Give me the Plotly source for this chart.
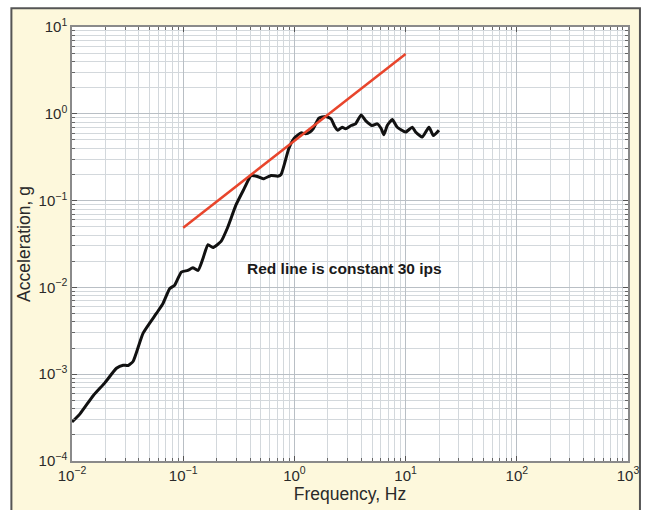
import plotly.graph_objects as go

# Measured acceleration spectrum
freq_hz = [0.0100, 0.0118, 0.0155, 0.0198, 0.0251, 0.0288, 0.0320, 0.0355, 0.0436,
           0.0574, 0.0658, 0.0755, 0.0838, 0.0962, 0.110, 0.122, 0.136, 0.150,
           0.167, 0.185, 0.219, 0.251, 0.299, 0.355, 0.407, 0.457, 0.525, 0.617,
           0.708, 0.759, 0.813, 0.891, 1.00, 1.148, 1.259, 1.380, 1.479, 1.660,
           1.905, 2.138, 2.291, 2.455, 2.692, 2.884, 3.236, 3.548, 3.981, 4.365,
           5.012, 5.559, 6.026, 6.383, 6.839, 7.586, 8.414, 10.0, 11.48, 12.30,
           14.13, 16.22, 17.78, 19.95]
accel_g = [2.81e-4, 3.49e-4, 5.65e-4, 8.0e-4, 1.17e-3, 1.27e-3, 1.26e-3, 1.41e-3, 2.97e-3,
           5.01e-3, 6.52e-3, 9.66e-3, 1.06e-2, 1.50e-2, 1.57e-2, 1.68e-2, 1.57e-2, 2.12e-2,
           3.10e-2, 2.88e-2, 3.39e-2, 4.90e-2, 8.97e-2, 0.139, 0.194, 0.191, 0.178, 0.195,
           0.191, 0.200, 0.263, 0.398, 0.525, 0.603, 0.589, 0.617, 0.676, 0.891,
           0.933, 0.871, 0.724, 0.646, 0.700, 0.671, 0.733, 0.766, 0.968, 0.836,
           0.733, 0.766, 0.676, 0.575, 0.733, 0.857, 0.700, 0.617, 0.700, 0.617,
           0.540, 0.700, 0.562, 0.646]

# Constant-velocity (30 ips) reference line
ref_freq_hz = [0.1, 10.0]
ref_accel_g = [0.0488, 4.88]

x_tickvals = [0.01, 0.1, 1, 10, 100, 1000]
x_ticktext = ["10<sup>−2</sup>", "10<sup>−1</sup>", "10<sup>0</sup>", "10<sup>1</sup>",
              "10<sup>2</sup>", "10<sup>3</sup>"]
y_tickvals = [1e-4, 1e-3, 1e-2, 1e-1, 1, 10]
y_ticktext = ["10<sup>−4</sup>", "10<sup>−3</sup>", "10<sup>−2</sup>", "10<sup>−1</sup>",
              "10<sup>0</sup>", "10<sup>1</sup>"]

note_text = "Red line is constant 30 ips"

FONT = "Liberation Sans, Arial, sans-serif"
TEXT_COLOR = "#2a2a2a"

fig = go.Figure()
fig.add_trace(go.Scatter(x=freq_hz, y=accel_g, mode="lines",
                         line=dict(color="#111111", width=3, shape="spline", smoothing=0.5),
                         hoverinfo="skip"))
fig.add_trace(go.Scatter(x=ref_freq_hz, y=ref_accel_g, mode="lines",
                         line=dict(color="#e8452c", width=2.5),
                         hoverinfo="skip"))

axis_common = dict(
    type="log",
    showline=True, linecolor="#8a8a8a", linewidth=1.5, mirror="allticks",
    ticks="inside", ticklen=5, tickcolor="#555555", tickwidth=1,
    showgrid=True, gridcolor="#b9bfc5", gridwidth=1,
    zeroline=False,
    tickfont=dict(family=FONT, size=15, color=TEXT_COLOR),
    minor=dict(dtick="D1", ticks="inside", ticklen=3, tickcolor="#666666",
               showgrid=True, gridcolor="#d3d8dc", gridwidth=1),
)

fig.update_xaxes(range=[-2, 3], tickvals=x_tickvals, ticktext=x_ticktext,
                 title=dict(text="Frequency, Hz", standoff=2,
                            font=dict(family=FONT, size=17.5, color=TEXT_COLOR)),
                 **axis_common)
fig.update_yaxes(range=[-4, 1], tickvals=y_tickvals, ticktext=y_ticktext,
                 title=dict(text="Acceleration, g", standoff=3,
                            font=dict(family=FONT, size=17.5, color=TEXT_COLOR)),
                 **axis_common)

fig.add_annotation(x=0.446, y=-1.779, xref="x", yref="y", text="<b>" + note_text + "</b>",
                   showarrow=False, font=dict(family=FONT, size=15.5, color="#1a1a1a"))

# Cream panel with dark border behind the plot, and a white plotting area
fig.add_shape(type="rect", xref="paper", yref="paper",
              x0=-0.109, x1=1.0215, y0=-0.2, y1=1.043,
              fillcolor="#fdf8dc", line=dict(color="#555555", width=2), layer="below")
fig.add_shape(type="rect", xref="paper", yref="paper",
              x0=0, x1=1, y0=0, y1=1,
              fillcolor="#ffffff", line=dict(width=0), layer="below")

fig.update_layout(
    width=651, height=510,
    margin=dict(l=72, r=20, t=27, b=44),
    paper_bgcolor="#ffffff", plot_bgcolor="#ffffff",
    showlegend=False,
    font=dict(family=FONT, color=TEXT_COLOR),
)

fig.write_html("out.html")
